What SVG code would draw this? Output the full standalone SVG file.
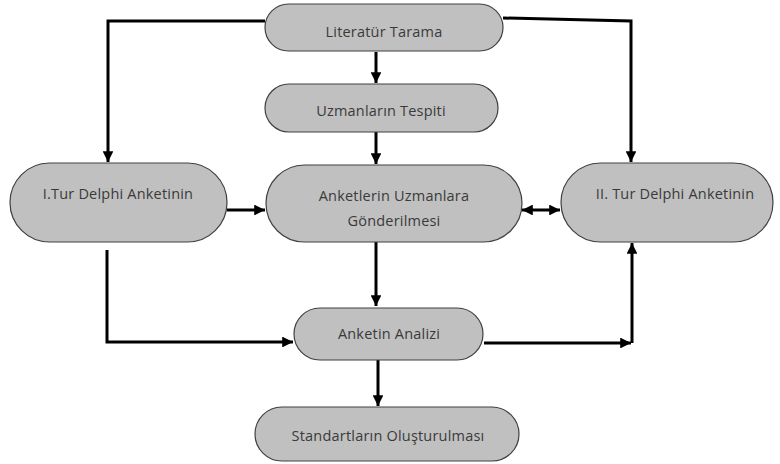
<svg xmlns="http://www.w3.org/2000/svg" width="780" height="464" viewBox="0 0 780 464">
<style>
.n{fill:#c0c0c0;stroke:#404040;stroke-width:1.2}
.t{font-family:"Open Sans","Liberation Sans",sans-serif;font-size:14.5px;letter-spacing:0.2px;fill:#3a3a3a;text-anchor:middle;dominant-baseline:central}
.c{fill:none;stroke:#000;stroke-width:3}
</style>
<defs>
<marker id="a" viewBox="0 0 10 10" refX="10" refY="5" markerWidth="3.6" markerHeight="3.6" orient="auto-start-reverse" markerUnits="strokeWidth">
<path d="M0,0 L10,5 L0,10 z" fill="#000"/>
</marker>
</defs>
<g id="connectors">
<path class="c" d="M376,52 V83" marker-end="url(#a)"/>
<path class="c" d="M376,132 V164" marker-end="url(#a)"/>
<path class="c" d="M376,242 V306" marker-end="url(#a)"/>
<path class="c" d="M378,360 V406" marker-end="url(#a)"/>
<path class="c" d="M265,21 H108 V162" marker-end="url(#a)"/>
<path class="c" d="M503,18 L631,21 V162" marker-end="url(#a)"/>
<path class="c" d="M227,210 H265" marker-end="url(#a)"/>
<path class="c" d="M522,210 H560" marker-start="url(#a)" marker-end="url(#a)"/>
<path class="c" d="M107,250 V342 H293" marker-end="url(#a)"/>
<path class="c" d="M484,343 H631" marker-end="url(#a)"/>
<path class="c" d="M632,343 V243" marker-end="url(#a)"/>
</g>
<g id="literatur">
<rect class="n" x="265" y="4" width="238" height="47" rx="23.5"/>
<text class="t" x="384" y="31">Literatür Tarama</text>
</g>
<g id="uzmanlar">
<rect class="n" x="265" y="84" width="233" height="48" rx="24"/>
<text class="t" x="381" y="110">Uzmanların Tespiti</text>
</g>
<g id="anketler">
<rect class="n" x="266" y="165" width="256" height="77" rx="38.5"/>
<text class="t" x="394" y="195">Anketlerin Uzmanlara</text>
<text class="t" x="394" y="220">Gönderilmesi</text>
</g>
<g id="tur1">
<rect class="n" x="10" y="163" width="217" height="79" rx="39.5"/>
<text class="t" x="118" y="193">I.Tur Delphi Anketinin</text>
</g>
<g id="tur2">
<rect class="n" x="561" y="163" width="212" height="79" rx="39.5"/>
<text class="t" x="675" y="193">II. Tur Delphi Anketinin</text>
</g>
<g id="analiz">
<rect class="n" x="294" y="308" width="189" height="52" rx="26"/>
<text class="t" x="389" y="333">Anketin Analizi</text>
</g>
<g id="standart">
<rect class="n" x="255" y="407" width="264" height="54" rx="27"/>
<text class="t" x="388" y="435">Standartların Oluşturulması</text>
</g>
</svg>
